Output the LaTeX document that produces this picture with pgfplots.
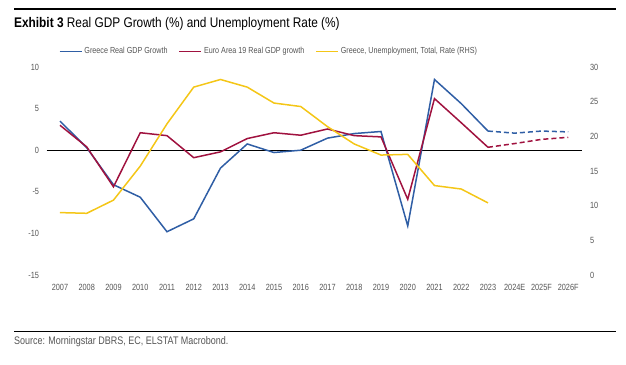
\documentclass[border=0pt]{standalone}
\usepackage{pgfplots}
\pgfplotsset{compat=1.18}
\usepackage{fontspec}
\setmainfont{Liberation Sans}[FakeStretch=0.82]
\newfontfamily\titlefont{Liberation Sans}[FakeStretch=0.85]
\definecolor{gblue}{HTML}{2F5EA5}
\definecolor{ered}{HTML}{A0123F}
\definecolor{gyel}{HTML}{F4C617}
\definecolor{lab}{HTML}{555555}
\begin{document}
\begin{tikzpicture}[x=1bp,y=1bp]
\useasboundingbox (0,0) rectangle (626,364);
\draw[line width=1.3bp,black] (14,355) -- (616,355);
\node[anchor=base west,inner sep=0] at (14,337) {\titlefont\fontsize{14}{16}\selectfont\textbf{Exhibit 3} Real GDP Growth (\%) and Unemployment Rate (\%)};
\draw[line width=1bp,black] (14,33) -- (616,33);
\node[anchor=base west,inner sep=0,text=lab] at (14,19.5) {\fontsize{11}{13}\selectfont Source: Morningstar DBRS, EC, ELSTAT Macrobond.};
\begin{axis}[
  at={(46.6bp,89bp)}, anchor=south west,
  scale only axis, width=535bp, height=208bp,
  xmin=-0.5, xmax=19.5, ymin=-15, ymax=10,
  xtick={0,...,19},
  xticklabels={2007,2008,2009,2010,2011,2012,2013,2014,2015,2016,2017,2018,2019,2020,2021,2022,2023,2024E,2025F,2026F},
  ytick={-15,-10,-5,0,5,10},
  /pgf/number format/assume math mode=true,
  axis line style={draw=none},
  major tick length=0pt,
  tick label style={font=\fontsize{9}{10}\selectfont, text=lab},
  xticklabel style={yshift=-6bp},
  yticklabel style={xshift=-4bp},
  extra y ticks={0}, extra y tick labels={},
  extra y tick style={grid=major, major grid style={black, line width=0.8bp}},
  legend columns=3,
  legend style={at={(0.4157,1.075)}, anchor=center, draw=none, fill=none,
    font=\fontsize{8.8}{10}\selectfont, text=lab,
    /tikz/every even column/.append style={column sep=9bp},
    inner sep=0pt},
  legend image code/.code={\draw[#1] (0bp,0bp) -- (22bp,0bp);},
  legend cell align=left,
]
\addplot[gblue, line width=1.5bp] coordinates {
(0,3.5) (1,0.3) (2,-4.15) (3,-5.65) (4,-9.8) (5,-8.25) (6,-2.15) (7,0.75) (8,-0.28) (9,0) (10,1.45) (11,2.0) (12,2.25) (13,-9.1) (14,8.5) (15,5.6) (16,2.3)};
\addlegendentry{Greece Real GDP Growth}
\addplot[ered, line width=1.5bp] coordinates {
(0,3.0) (1,0.4) (2,-4.4) (3,2.1) (4,1.75) (5,-0.9) (6,-0.2) (7,1.4) (8,2.1) (9,1.8) (10,2.55) (11,1.75) (12,1.6) (13,-5.9) (14,6.2) (15,3.3) (16,0.35)};
\addlegendentry{Euro Area 19 Real GDP growth}
\addlegendimage{gyel, line width=1.5bp}
\addlegendentry{Greece, Unemployment, Total, Rate (RHS)}
\addplot[gblue, line width=1.5bp, dash pattern=on 5bp off 3bp, forget plot] coordinates {
(16,2.3) (17,2.05) (18,2.3) (19,2.2)};
\addplot[ered, line width=1.5bp, dash pattern=on 5bp off 3bp, forget plot] coordinates {
(16,0.35) (17,0.8) (18,1.3) (19,1.55)};
\end{axis}
\begin{axis}[
  at={(46.6bp,89bp)}, anchor=south west,
  scale only axis, width=535bp, height=208bp,
  xmin=-0.5, xmax=19.5, ymin=0, ymax=30,
  hide x axis,
  axis y line*=right,
  ytick={0,5,10,15,20,25,30},
  /pgf/number format/assume math mode=true,
  axis line style={draw=none},
  major tick length=0pt,
  tick label style={font=\fontsize{9}{10}\selectfont, text=lab},
  yticklabel style={xshift=5bp},
]
\addplot[gyel, line width=1.5bp] coordinates {
(0,9.0) (1,8.9) (2,10.8) (3,15.7) (4,21.8) (5,27.1) (6,28.2) (7,27.1) (8,24.8) (9,24.3) (10,21.4) (11,18.9) (12,17.3) (13,17.4) (14,12.9) (15,12.4) (16,10.4)};
\end{axis}
\end{tikzpicture}
\end{document}
